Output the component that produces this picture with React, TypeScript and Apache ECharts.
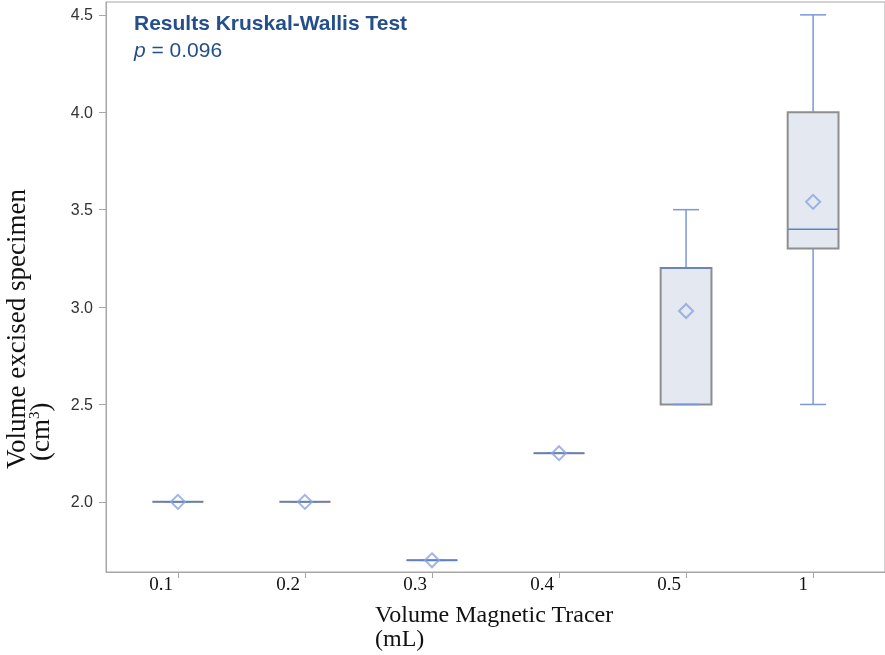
import React, { useEffect, useRef } from "react";
import * as echarts from "echarts";

const categories = ["0.1", "0.2", "0.3", "0.4", "0.5", "1"];
const mins = [2.0, 2.0, 1.7, 2.25, 2.5, 2.5];
const q1s = [2.0, 2.0, 1.7, 2.25, 2.5, 3.3];
const medians = [2.0, 2.0, 1.7, 2.25, 3.2, 3.4];
const q3s = [2.0, 2.0, 1.7, 2.25, 3.2, 4.0];
const maxs = [2.0, 2.0, 1.7, 2.25, 3.5, 4.5];
const means = [2.0, 2.0, 1.7, 2.25, 2.98, 3.54];
const yTicks = [2.0, 2.5, 3.0, 3.5, 4.0, 4.5];
const xTicks = [0, 1, 2, 3, 4, 5];

const AXIS_GRAY = "#a6a6a6";
const WHISKER = "#7b97d8";
const MEDIAN = "#5f80c8";
const BOX_FILL = "#e3e8f1";
const BOX_EDGE = "#8e8e8e";
const MEAN = "#8aa4dd";
const TITLE = "#244f8b";

export default function App() {
  const ref = useRef<HTMLDivElement>(null);
  useEffect(() => {
    if (!ref.current) return;
    const chart = echarts.init(ref.current, undefined, { renderer: "svg" });
    const boxData = categories.map((_, i) => [i, mins[i], q1s[i], medians[i], q3s[i], maxs[i]]);
    const meanData = categories.map((_, i) => [i, means[i]]);
    const option: any = {
      animation: false,
      grid: {
        left: 106,
        right: -1,
        top: 2,
        bottom: 83,
        show: true,
        borderColor: AXIS_GRAY,
        borderWidth: 1,
        backgroundColor: "transparent",
      },
      xAxis: {
        type: "value",
        min: -0.566,
        max: 5.566,
        splitLine: { show: false },
        axisLine: { show: true, onZero: false, lineStyle: { color: AXIS_GRAY } },
        axisTick: {
          show: true,
          customValues: xTicks,
          length: 6,
          lineStyle: { color: AXIS_GRAY },
        },
        axisLabel: {
          customValues: xTicks,
          formatter: (v: number) => categories[Math.round(v)],
          fontFamily: "Liberation Serif",
          fontSize: 19,
          color: "#111",
          align: "right",
          padding: [0, 5, 0, 0],
          margin: 2,
        },
      },
      yAxis: {
        type: "value",
        min: 1.64,
        max: 4.566,
        splitLine: { show: false },
        axisLine: { show: true, onZero: false, lineStyle: { color: AXIS_GRAY } },
        axisTick: {
          show: true,
          customValues: yTicks,
          length: 7,
          lineStyle: { color: AXIS_GRAY },
        },
        axisLabel: {
          customValues: yTicks,
          formatter: (v: number) => v.toFixed(1),
          fontFamily: "Liberation Sans",
          fontSize: 16,
          color: "#333",
          margin: 13,
        },
      },
      series: [
        {
          type: "custom",
          data: boxData,
          encode: { x: 0, y: [1, 2, 3, 4, 5] },
          renderItem: (params: any, api: any) => {
            const i = api.value(0);
            const pMin = api.coord([i, api.value(1)]);
            const pQ1 = api.coord([i, api.value(2)]);
            const pMed = api.coord([i, api.value(3)]);
            const pQ3 = api.coord([i, api.value(4)]);
            const pMax = api.coord([i, api.value(5)]);
            const band = api.size([1, 0])[0];
            const bw = band * 0.4;
            const cw = band * 0.205;
            const cx = pMed[0];
            const wStyle = { stroke: WHISKER, lineWidth: 1.5 };
            return {
              type: "group",
              children: [
                {
                  type: "rect",
                  shape: { x: cx - bw / 2, y: pQ3[1], width: bw, height: pQ1[1] - pQ3[1] },
                  style: { fill: BOX_FILL, stroke: BOX_EDGE, lineWidth: 2 },
                },
                { type: "line", shape: { x1: cx, y1: pQ1[1], x2: cx, y2: pMin[1] }, style: wStyle },
                { type: "line", shape: { x1: cx, y1: pQ3[1], x2: cx, y2: pMax[1] }, style: wStyle },
                { type: "line", shape: { x1: cx - cw / 2, y1: pMin[1], x2: cx + cw / 2, y2: pMin[1] }, style: wStyle },
                { type: "line", shape: { x1: cx - cw / 2, y1: pMax[1], x2: cx + cw / 2, y2: pMax[1] }, style: wStyle },
                {
                  type: "line",
                  shape: { x1: cx - bw / 2, y1: pMed[1], x2: cx + bw / 2, y2: pMed[1] },
                  style: { stroke: MEDIAN, lineWidth: 1.5 },
                },
              ],
            };
          },
          z: 2,
        },
        {
          type: "scatter",
          data: meanData,
          symbol: "diamond",
          symbolSize: [14, 14],
          itemStyle: { color: "rgba(0,0,0,0)", borderColor: MEAN, borderWidth: 2 },
          z: 3,
        },
      ],
      graphic: [
        {
          type: "text",
          left: 134,
          top: 12,
          style: {
            text: "Results Kruskal-Wallis Test",
            font: "bold 21px 'Liberation Sans', Arial, sans-serif",
            fill: TITLE,
          },
        },
        {
          type: "text",
          left: 134,
          top: 39,
          style: {
            text: "{i|p} = 0.096",
            font: "21px 'Liberation Sans', Arial, sans-serif",
            fill: TITLE,
            rich: {
              i: { fontStyle: "italic", fontSize: 21, fontFamily: "Liberation Sans", fill: TITLE, color: TITLE },
            },
          },
        },
        {
          type: "text",
          x: 375,
          y: 602,
          style: {
            text: "Volume Magnetic Tracer",
            font: "24px 'Liberation Serif', serif",
            fill: "#111",
            textAlign: "left",
            textVerticalAlign: "top",
          },
        },
        {
          type: "text",
          x: 375,
          y: 626,
          style: {
            text: "(mL)",
            font: "24px 'Liberation Serif', serif",
            fill: "#111",
            textAlign: "left",
            textVerticalAlign: "top",
          },
        },
        {
          type: "text",
          x: 16,
          y: 469,
          rotation: Math.PI / 2,
          style: {
            text: "Volume excised specimen",
            font: "27px 'Liberation Serif', serif",
            fill: "#111",
            textAlign: "left",
            textVerticalAlign: "middle",
          },
        },
        {
          type: "text",
          x: 40,
          y: 461,
          rotation: Math.PI / 2,
          style: {
            text: "(cm{s|3})",
            font: "27px 'Liberation Serif', serif",
            fill: "#111",
            textAlign: "left",
            textVerticalAlign: "middle",
            rich: {
              s: { fontSize: 15, fontFamily: "Liberation Serif", verticalAlign: "top", fill: "#111", color: "#111" },
            },
          },
        },
      ],
    };
    chart.setOption(option);
    return () => chart.dispose();
  }, []);
  return <div ref={ref} style={{ position: "fixed", left: 0, top: 0, width: 885, height: 655 }} />;
}
